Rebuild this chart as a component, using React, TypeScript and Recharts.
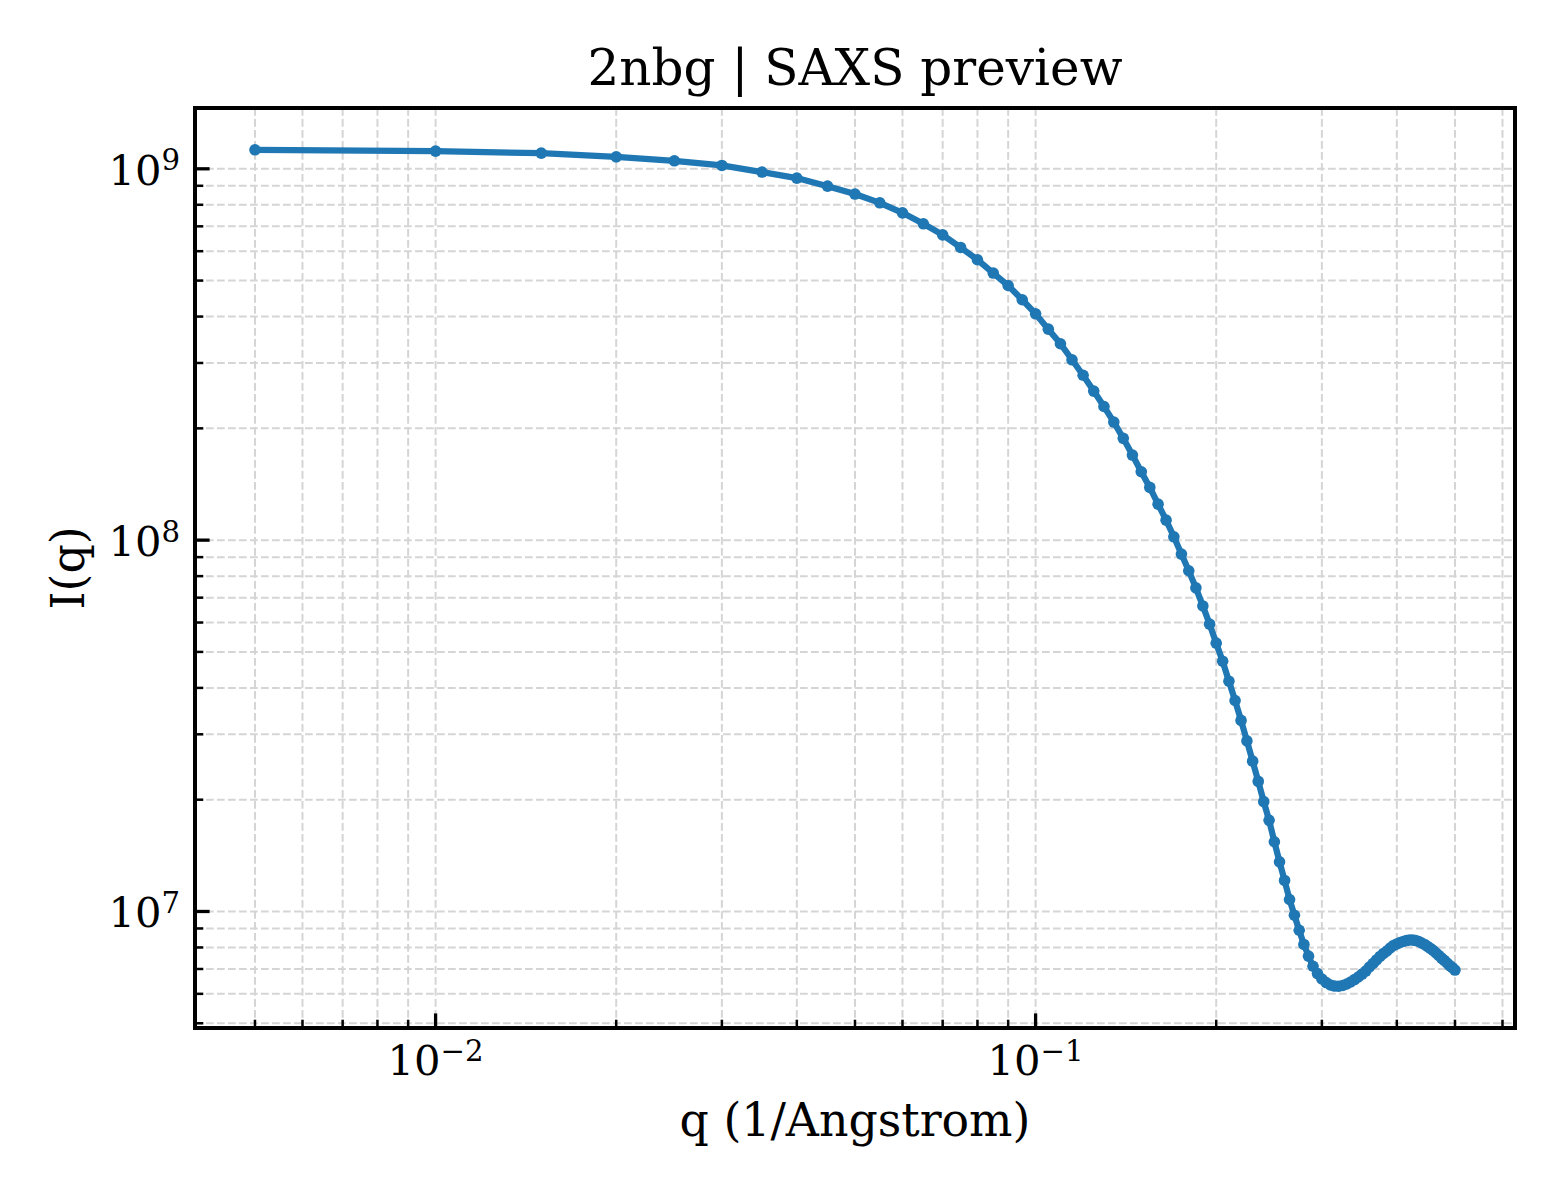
import React from 'react';
import { LineChart, Line, XAxis, YAxis, CartesianGrid, ReferenceArea } from 'recharts';

const FONT = "'DejaVu Serif', serif";

const titleText = '2nbg | SAXS preview';
const xLabelText = 'q (1/Angstrom)';
const yLabelText = 'I(q)';

const qValues = [
  0.005, 0.01, 0.015, 0.02, 0.025, 0.03, 0.035, 0.04, 0.045, 0.05,
  0.055, 0.06, 0.065, 0.07, 0.075, 0.08, 0.085, 0.09, 0.095, 0.1,
  0.105, 0.11, 0.115, 0.12, 0.125, 0.13, 0.135, 0.14, 0.145, 0.15,
  0.155, 0.16, 0.165, 0.17, 0.175, 0.18, 0.185, 0.19, 0.195, 0.2,
  0.205, 0.21, 0.215, 0.22, 0.225, 0.23, 0.235, 0.24, 0.245, 0.25,
  0.255, 0.26, 0.265, 0.27, 0.275, 0.28, 0.285, 0.29, 0.295, 0.3,
  0.305, 0.31, 0.315, 0.32, 0.325, 0.33, 0.335, 0.34, 0.345, 0.35,
  0.355, 0.36, 0.365, 0.37, 0.375, 0.38, 0.385, 0.39, 0.395, 0.4,
  0.405, 0.41, 0.415, 0.42, 0.425, 0.43, 0.435, 0.44, 0.445, 0.45,
  0.455, 0.46, 0.465, 0.47, 0.475, 0.48, 0.485, 0.49, 0.495, 0.5,
];

const intensityValues = [
  1.125e9, 1.116e9, 1.102e9, 1.077e9, 1.051e9, 1.021e9, 9.8e8, 9.44e8, 8.98e8, 8.55e8,
  8.1e8, 7.61e8, 7.11e8, 6.64e8, 6.14e8, 5.69e8, 5.24e8, 4.85e8, 4.44e8, 4.07e8,
  3.7e8, 3.38e8, 3.06e8, 2.78e8, 2.52e8, 2.29e8, 2.08e8, 1.88e8, 1.695e8, 1.528e8,
  1.387e8, 1.25e8, 1.132e8, 1.021e8, 9.17e7, 8.27e7, 7.44e7, 6.65e7, 5.94e7, 5.28e7,
  4.72e7, 4.17e7, 3.7e7, 3.27e7, 2.88e7, 2.54e7, 2.24e7, 1.976e7, 1.76e7, 1.541e7,
  1.36e7, 1.212e7, 1.077e7, 9.77e6, 8.9e6, 8.15e6, 7.58e6, 7.12e6, 6.806e6, 6.578e6,
  6.436e6, 6.338e6, 6.298e6, 6.29e6, 6.318e6, 6.378e6, 6.457e6, 6.557e6, 6.661e6, 6.784e6,
  6.912e6, 7.088e6, 7.243e6, 7.403e6, 7.565e6, 7.707e6, 7.827e6, 7.974e6, 8.1e6, 8.175e6,
  8.25e6, 8.3e6, 8.35e6, 8.38e6, 8.38e6, 8.35e6, 8.3e6, 8.225e6, 8.15e6, 8.05e6,
  7.95e6, 7.85e6, 7.73e6, 7.61e6, 7.49e6, 7.38e6, 7.265e6, 7.15e6, 7.06e6, 6.955e6,
];

const xDomain = [0.003972, 0.6295];
const yDomain = [4.855e6, 1.458e9];

const xMajorTicks = [0.01, 0.1];
const xMajorExponents = ['\u22122', '\u22121'];
const xMinorTicks = [
  0.005, 0.006, 0.007, 0.008, 0.009,
  0.02, 0.03, 0.04, 0.05, 0.06, 0.07, 0.08, 0.09,
  0.2, 0.3, 0.4, 0.5, 0.6,
];

const yMajorTicks = [1e7, 1e8, 1e9];
const yMajorExponents = ['7', '8', '9'];
const yMinorTicks = [
  5e6, 6e6, 7e6, 8e6, 9e6,
  2e7, 3e7, 4e7, 5e7, 6e7, 7e7, 8e7, 9e7,
  2e8, 3e8, 4e8, 5e8, 6e8, 7e8, 8e8, 9e8,
];

const xTicks = [...xMinorTicks, ...xMajorTicks].sort((a, b) => a - b);
const yTicks = [...yMinorTicks, ...yMajorTicks].sort((a, b) => a - b);

const chartData = qValues.map((q, i) => ({ q, I: intensityValues[i] }));

const LINE_COLOR = '#1f77b4';
const MAJOR_LEN = 14.6;
const MINOR_LEN = 8.3;
const TICK_FONT = 41.7;
const SUP_FONT = 29.2;

const XTick = (props: any) => {
  const { x, y, payload } = props;
  const idx = xMajorTicks.indexOf(payload.value);
  const major = idx >= 0;
  return (
    <g>
      <line
        x1={x}
        x2={x}
        y1={y}
        y2={y - (major ? MAJOR_LEN : MINOR_LEN)}
        stroke="#000"
        strokeWidth={major ? 3.3 : 2.5}
      />
      {major && (
        <text x={x} y={y + 47} textAnchor="middle" fontFamily={FONT} fontSize={TICK_FONT} fill="#000">
          10
          <tspan dy={-14.5} fontSize={SUP_FONT}>
            {xMajorExponents[idx]}
          </tspan>
        </text>
      )}
    </g>
  );
};

const YTick = (props: any) => {
  const { x, y, payload } = props;
  const idx = yMajorTicks.indexOf(payload.value);
  const major = idx >= 0;
  return (
    <g>
      <line
        x1={x}
        x2={x + (major ? MAJOR_LEN : MINOR_LEN)}
        y1={y}
        y2={y}
        stroke="#000"
        strokeWidth={major ? 3.3 : 2.5}
      />
      {major && (
        <text x={x - 15} y={y + 16} textAnchor="end" fontFamily={FONT} fontSize={TICK_FONT} fill="#000">
          10
          <tspan dy={-14.5} fontSize={SUP_FONT}>
            {yMajorExponents[idx]}
          </tspan>
        </text>
      )}
    </g>
  );
};

export default function App() {
  return (
    <div style={{ position: 'absolute', left: 0, top: 0, width: 1560, height: 1200, background: '#fff' }}>
      <LineChart
        width={1560}
        height={1200}
        data={chartData}
        margin={{ top: 108, right: 45, bottom: 0, left: 0 }}
      >
        <CartesianGrid stroke="#d5d5d5" strokeWidth={2} strokeDasharray="7.7 3.3" />
        <XAxis
          dataKey="q"
          type="number"
          scale="log"
          domain={xDomain}
          allowDataOverflow
          ticks={xTicks}
          interval={0}
          height={172}
          tickSize={0}
          tickMargin={0}
          axisLine={false}
          tickLine={false}
          tick={(p: any) => <XTick {...p} />}
        />
        <YAxis
          dataKey="I"
          type="number"
          scale="log"
          domain={yDomain}
          allowDataOverflow
          ticks={yTicks}
          interval={0}
          width={195}
          tickSize={0}
          tickMargin={0}
          axisLine={false}
          tickLine={false}
          tick={(p: any) => <YTick {...p} />}
        />
        <Line
          type="linear"
          dataKey="I"
          stroke={LINE_COLOR}
          strokeWidth={6.25}
          dot={{ r: 5.8, fill: LINE_COLOR, stroke: 'none' }}
          activeDot={false}
          isAnimationActive={false}
        />
        <ReferenceArea
          x1={xDomain[0]}
          x2={xDomain[1]}
          y1={yDomain[0]}
          y2={yDomain[1]}
          fill="none"
          fillOpacity={0}
          stroke="#000"
          strokeWidth={4}
          ifOverflow="visible"
        />
      </LineChart>
      <svg
        width={1560}
        height={1200}
        style={{ position: 'absolute', left: 0, top: 0, pointerEvents: 'none' }}
      >
        <text x={855} y={85} textAnchor="middle" fontFamily={FONT} fontSize={50} fill="#000">
          {titleText}
        </text>
        <text x={855} y={1136} textAnchor="middle" fontFamily={FONT} fontSize={45.8} fill="#000">
          {xLabelText}
        </text>
        <text
          x={0}
          y={0}
          transform="translate(83.5,568) rotate(-90)"
          textAnchor="middle"
          fontFamily={FONT}
          fontSize={45.8}
          fill="#000"
        >
          {yLabelText}
        </text>
      </svg>
    </div>
  );
}
